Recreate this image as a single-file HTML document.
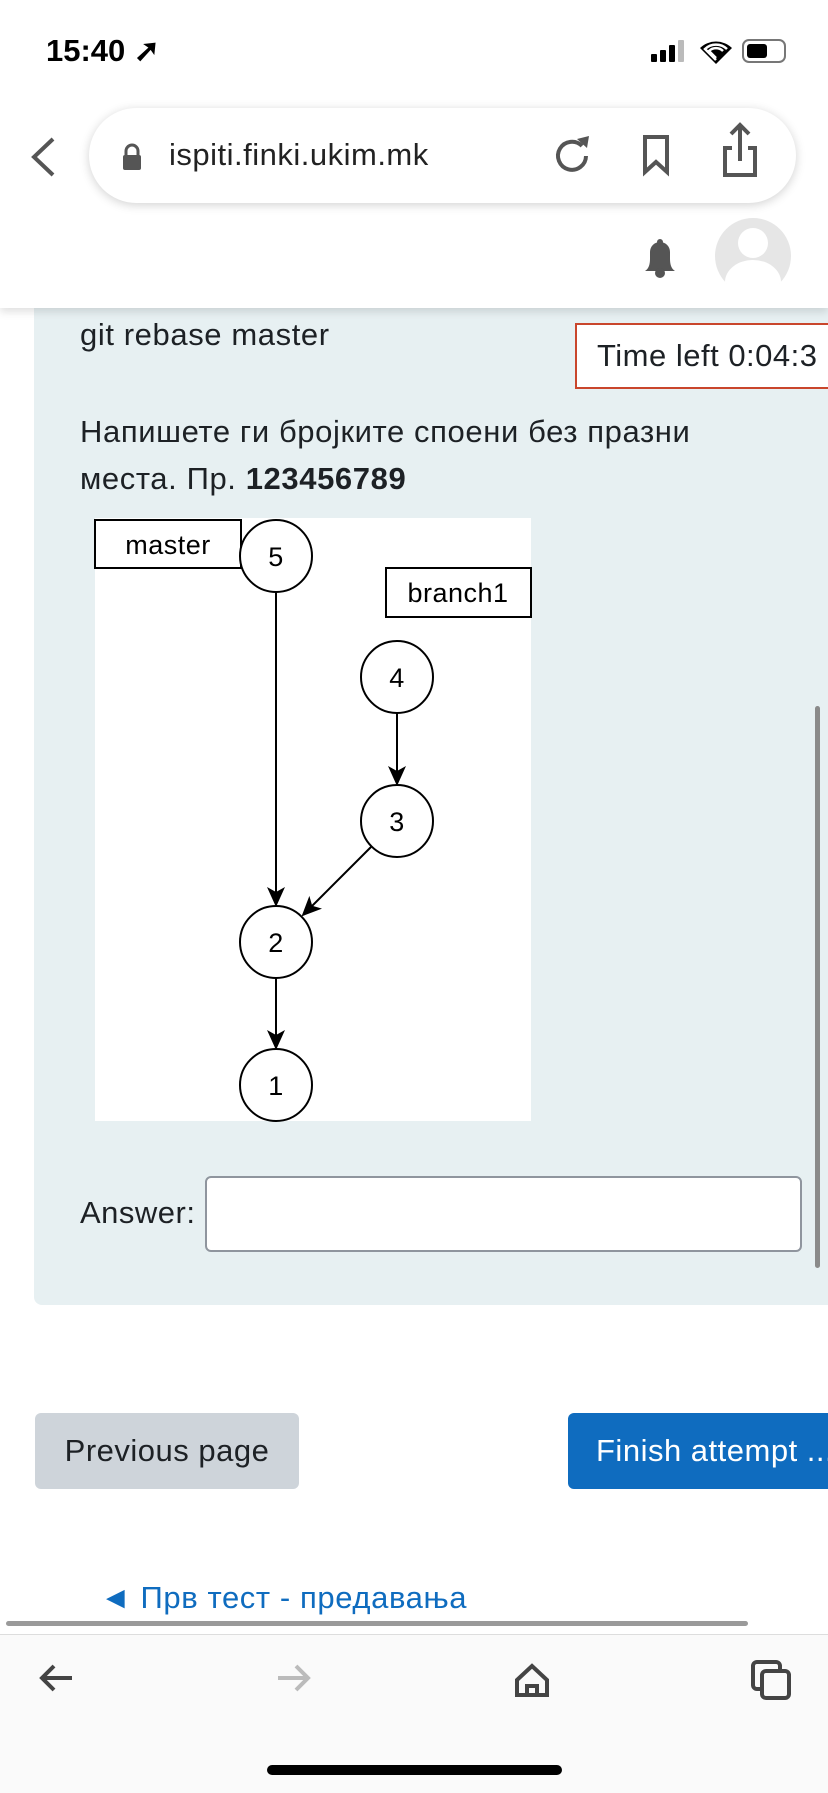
<!DOCTYPE html>
<html><head><meta charset="utf-8"><style>
body{margin:0;width:828px;height:1792px;position:relative;overflow:hidden;background:#fff;font-family:"Liberation Sans","Noto Sans CJK SC",sans-serif;color:#1d2125}
.a{position:absolute;white-space:nowrap}
</style></head><body>
<div class="a" style="left:34px;top:290px;width:800px;height:1015px;background:#e7f0f2;border-radius:0 0 0 8px"></div>
<div class="a" style="left:0;top:0;width:828px;height:308px;background:#fff;box-shadow:0 4px 8px rgba(0,0,0,0.12)"></div>
<div class="a" style="left:46px;top:33px;font-size:31px;font-weight:600;color:#000">15:40 ➚</div>
<div class="a" style="left:651px;top:40px;width:42px;height:22px">
<div class="a" style="left:0;top:14px;width:6px;height:8px;background:#000;border-radius:1px"></div>
<div class="a" style="left:9px;top:10px;width:6px;height:12px;background:#000;border-radius:1px"></div>
<div class="a" style="left:18px;top:5px;width:6px;height:17px;background:#000;border-radius:1px"></div>
<div class="a" style="left:27px;top:0;width:6px;height:22px;background:#bbb;border-radius:1px"></div></div>
<svg class="a" style="left:698px;top:36px" width="36" height="30"><path d="M18,28 L2,12 A23,23 0 0 1 34,12 Z" fill="#000"/><path d="M18,24 L7,13 A16,16 0 0 1 29,13" fill="none" stroke="#fff" stroke-width="2.5"/><path d="M18,22 L11,15 A10,10 0 0 1 25,15" fill="none" stroke="#fff" stroke-width="2.5"/></svg>
<div class="a" style="left:742px;top:39px;width:44px;height:24px;border:2px solid #777;border-radius:7px;box-sizing:border-box"><div style="margin:3px;width:20px;height:14px;background:#000;border-radius:3px"></div></div>
<div class="a" style="left:89px;top:108px;width:707px;height:95px;background:#fff;border-radius:48px;box-shadow:0 2px 10px rgba(0,0,0,0.18)"></div>
<svg class="a" style="left:0;top:0" width="828" height="300">
<polyline points="53,139 34,157 53,175" fill="none" stroke="#555" stroke-width="4"/>
<rect x="123" y="155" width="18" height="15" rx="2" fill="#555"/><path d="M126,156 v-5 a6,6 0 0 1 12,0 v5" fill="none" stroke="#555" stroke-width="3"/>
<path d="M582,146 a14,14 0 1 0 4,10" fill="none" stroke="#555" stroke-width="4"/><polygon points="577,139 589,136 587,148" fill="#555"/>
<path d="M645,137 h22 v35 l-11,-10 l-11,10 z" fill="none" stroke="#555" stroke-width="4"/>
<path d="M732,148 h-7 v27 h30 v-27 h-7 M740,161 v-34 M731,134 l9,-9 l9,9" fill="none" stroke="#555" stroke-width="4"/>
<path d="M645,271 q5,-3 5,-12 v-7 a10,10 0 0 1 20,0 v7 q0,9 5,12 z" fill="#555"/><circle cx="660" cy="273" r="5" fill="#555"/><circle cx="660" cy="242" r="3" fill="#555"/>
<circle cx="753" cy="256" r="38" fill="#e6e6e6"/><circle cx="753" cy="243" r="15" fill="#fff"/><path d="M725,282 a28,22 0 0 1 56,0 a38,38 0 0 1 -56,0z" fill="#fff"/>
</svg>
<div class="a" style="left:169px;top:137px;font-size:31px;letter-spacing:0.5px;color:#222">ispiti.finki.ukim.mk</div>
<div class="a" style="left:80px;top:317px;font-size:31px;letter-spacing:0.6px">git rebase master</div>
<div class="a" style="left:575px;top:323px;width:260px;height:66px;border:2px solid #c9462c;background:#fff;box-sizing:border-box;font-size:31px;letter-spacing:0.5px;line-height:62px;padding-left:20px;overflow:hidden">Time left 0:04:3</div>
<div class="a" style="left:80px;top:408px;font-size:31px;letter-spacing:0.6px;line-height:47px">Напишете ги бројките споени без празни<br>места. Пр. <b>123456789</b></div>
<svg class="a" style="left:0;top:0" width="828" height="1300">
<defs><marker id="m2" markerWidth="20" markerHeight="18" refX="18" refY="9" orient="auto" markerUnits="userSpaceOnUse"><path d="M0,0 L20,9 L0,18 L5,9 z" fill="#000"/></marker></defs>
<rect x="95" y="518" width="436" height="603" fill="#fff"/>
<g stroke="#000" stroke-width="2" fill="none">
<line x1="276" y1="592" x2="276" y2="905" marker-end="url(#m2)"/>
<line x1="397" y1="713" x2="397" y2="784" marker-end="url(#m2)"/>
<line x1="371" y1="847" x2="303" y2="915" marker-end="url(#m2)"/>
<line x1="276" y1="978" x2="276" y2="1048" marker-end="url(#m2)"/>
<rect x="95" y="520" width="146" height="48" fill="#fff"/>
<rect x="386" y="568" width="145" height="49" fill="#fff"/>
<circle cx="276" cy="556" r="36" fill="#fff"/><circle cx="397" cy="677" r="36" fill="#fff"/><circle cx="397" cy="821" r="36" fill="#fff"/><circle cx="276" cy="942" r="36" fill="#fff"/><circle cx="276" cy="1085" r="36" fill="#fff"/>
</g>
<g font-family="Liberation Sans, sans-serif" font-size="27" text-anchor="middle" fill="#000" letter-spacing="0.5">
<text x="168" y="554">master</text><text x="458" y="602">branch1</text>
<text x="276" y="566">5</text><text x="397" y="687">4</text><text x="397" y="831">3</text><text x="276" y="952">2</text><text x="276" y="1095">1</text>
</g></svg>
<div class="a" style="left:80px;top:1195px;font-size:31px;letter-spacing:0.5px">Answer:</div>
<div class="a" style="left:205px;top:1176px;width:597px;height:76px;background:#fff;border:2px solid #8f959e;border-radius:6px;box-sizing:border-box"></div>
<div class="a" style="left:815px;top:706px;width:5px;height:562px;background:#8a8a8a;border-radius:3px"></div>
<div class="a" style="left:35px;top:1413px;width:264px;height:76px;background:#ced4da;border-radius:6px;font-size:31px;letter-spacing:0.5px;line-height:76px;text-align:center">Previous page</div>
<div class="a" style="left:568px;top:1413px;width:270px;height:76px;background:#0f6cbf;border-radius:6px;font-size:31px;letter-spacing:0.5px;line-height:76px;color:#fff;padding-left:28px;box-sizing:border-box;overflow:hidden">Finish attempt ...</div>
<div class="a" style="left:100px;top:1580px;font-size:31px;letter-spacing:0.6px;color:#0f6cbf">◄ Прв тест - предавања</div>
<div class="a" style="left:6px;top:1621px;width:742px;height:5px;background:#9a9a9a;border-radius:3px"></div>
<div class="a" style="left:0;top:1634px;width:828px;height:158px;background:#fafafa;border-top:1px solid #ddd"></div>
<svg class="a" style="left:0;top:1640px" width="828" height="152">
<path d="M72,38 h-30 M54,26 l-12,12 l12,12" fill="none" stroke="#444" stroke-width="4"/>
<path d="M278,38 h30 M296,26 l12,12 l-12,12" fill="none" stroke="#bbb" stroke-width="4"/>
<path d="M517,40 l15,-14 l15,14 v15 h-30 z M527,55 v-9 h10 v9" fill="none" stroke="#444" stroke-width="4"/>
<rect x="753" y="22" width="27" height="27" rx="4" fill="none" stroke="#444" stroke-width="4"/><rect x="762" y="31" width="27" height="27" rx="4" fill="#fafafa" stroke="#444" stroke-width="4"/>
<rect x="267" y="125" width="295" height="10" rx="5" fill="#000"/>
</svg>
</body></html>
